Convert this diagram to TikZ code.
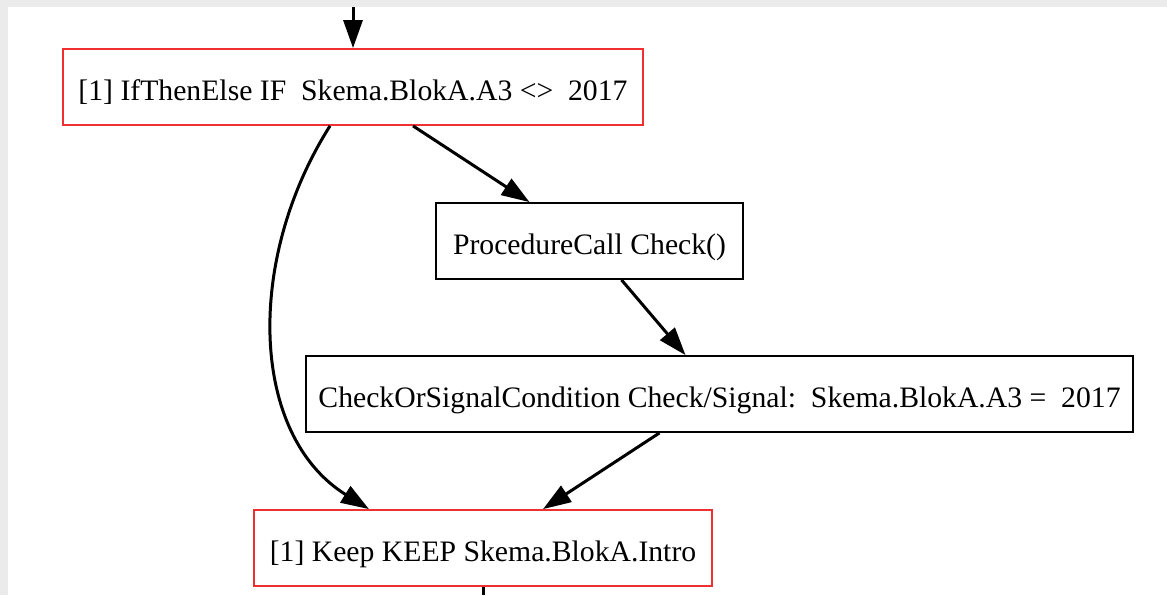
\documentclass[tikz,border=0pt]{standalone}
\usepackage{fontspec}
\setmainfont{Liberation Serif}
\usetikzlibrary{arrows.meta,positioning,calc}
\definecolor{gvred}{RGB}{238,48,48}
\definecolor{pagegrey}{RGB}{235,235,235}

\begin{document}
\begin{tikzpicture}[x=0.5pt, y=-0.5pt, >={Triangle[length=14pt,width=9.5pt]},
    every node/.append style={font=\fontsize{14.85}{18}\selectfont},
    stmt/.style={draw=black, line width=0.9pt, minimum height=38pt, inner sep=0pt,
      text height=13pt, text depth=0pt},
    keyed/.style={stmt, draw=gvred},
    flow/.style={->, line width=1.5pt}]
    % page frame
    \fill[pagegrey] (0,0) rectangle (1167,595);
    \fill[white] (8,7) rectangle (1167,595);
    \useasboundingbox (0,0) rectangle (1167,595);

    \node(ifelse)[keyed, minimum width=290pt] at (353,87) {[1] IfThenElse IF\ \ Skema.BlokA.A3 <>\ \ 2017};
    \node(call)[stmt, minimum width=153.5pt] at (589.5,241) {ProcedureCall Check()};
    \node(check)[stmt, minimum width=413.5pt] at (719.5,394) {CheckOrSignalCondition Check/Signal:\ \ Skema.BlokA.A3 =\ \ 2017};
    \node(keep)[keyed, minimum width=229pt] at (483,548) {[1] Keep KEEP Skema.BlokA.Intro};

    \coordinate (in) at (353,7);
    \coordinate (out) at (483,595);

    \draw[flow] (in) -- (ifelse.north);
    \draw[flow] ([xshift=30pt]ifelse.south) -- ([xshift=-30pt]call.north);
    \draw[flow] ([xshift=-11.5pt]ifelse.south) .. controls (245,260) and (250,435) .. ([xshift=-57pt]keep.north);
    \draw[flow] ([xshift=16pt]call.south) -- ([xshift=-17pt]check.north);
    \draw[flow] ([xshift=-30pt]check.south) -- ([xshift=30pt]keep.north);
    \draw[line width=1.5pt] (keep.south) -- (out);
\end{tikzpicture}
\end{document}
